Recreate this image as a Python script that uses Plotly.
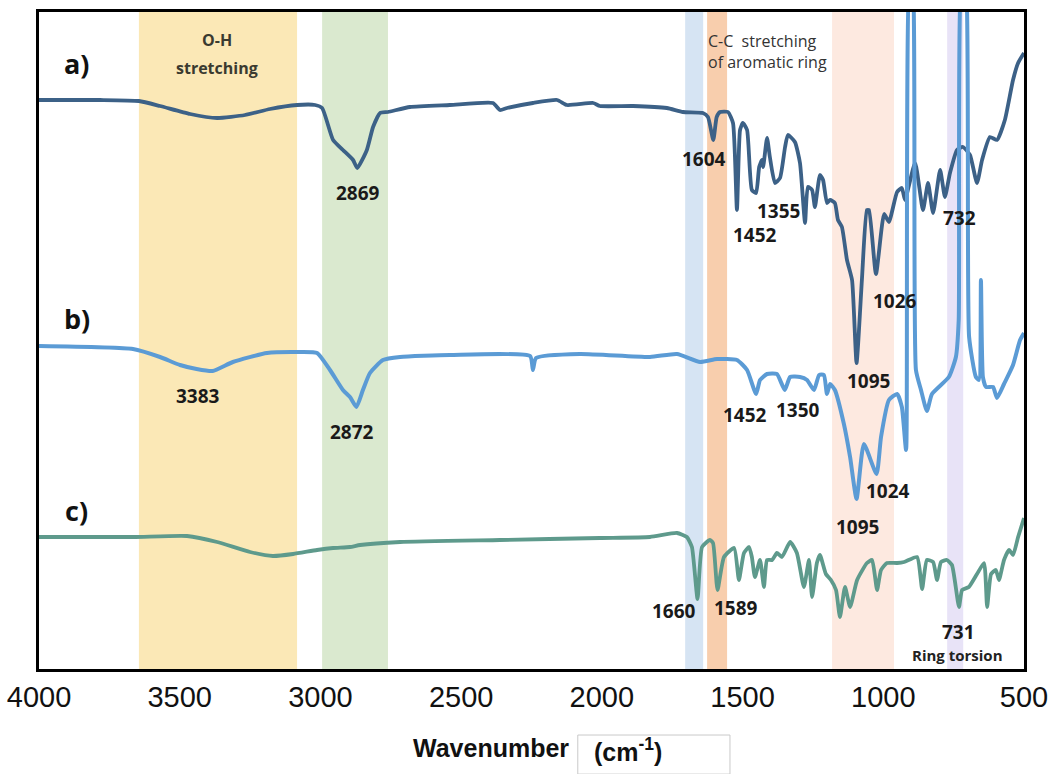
import plotly.graph_objects as go

# FTIR spectra (wavenumber in cm-1, transmittance in arbitrary offset units)
wn_a = [4000, 3783, 3645, 3570, 3463, 3367, 3268, 3179, 3083, 3019, 2994, 2955, 2920, 2884, 2869, 2835,
        2813, 2788, 2760, 2682, 2540, 2387, 2362, 2337, 2245, 2159, 2124, 2031, 2007, 1889, 1769, 1712,
        1641, 1623, 1604, 1592, 1580, 1552, 1534, 1520, 1509, 1499, 1484, 1467, 1452, 1441, 1431, 1427,
        1413, 1403, 1385, 1367, 1349, 1339, 1314, 1296, 1278, 1268, 1253, 1243, 1225, 1214, 1200, 1189,
        1172, 1161, 1147, 1129, 1111, 1095, 1076, 1058, 1051, 1026, 997, 980, 951, 934, 923, 887, 859,
        841, 823, 798, 781, 763, 738, 717, 692, 667, 649, 621, 596, 568, 539, 521, 500]
t_a = [569, 569, 568, 563, 555, 551, 554, 560, 564, 564, 561, 529, 519, 509, 501, 519,
       542, 556, 557, 562, 564, 566, 559, 561, 566, 569, 564, 566, 563, 563, 561, 557,
       556, 552, 529, 552, 557, 557, 546, 459, 539, 546, 539, 479, 476, 502, 509, 502,
       531, 512, 486, 491, 522, 534, 527, 506, 446, 482, 479, 462, 494, 489, 466, 469,
       466, 449, 442, 409, 389, 306, 389, 459, 459, 395, 455, 447, 477, 481, 469, 506, 459,
       486, 456, 499, 472, 496, 519, 522, 514, 486, 509, 532, 529, 549, 589, 606, 616]

wn_b = [4000, 3666, 3570, 3499, 3440, 3383, 3311, 3190, 3073, 3012, 2966, 2920, 2895, 2872, 2849, 2824,
        2778, 2717, 2540, 2255, 2245, 2234, 2078, 1829, 1733, 1651, 1591, 1520, 1484, 1452, 1438, 1413,
        1378, 1350, 1331, 1296, 1271, 1246, 1228, 1211, 1200, 1189, 1172, 1140, 1118, 1095, 1069, 1024,
        1008, 980, 951, 934, 919, 905, 898, 884, 866, 845, 827, 767, 742, 732, 720, 710, 695, 671, 660,
        653, 646, 635, 610, 596, 571, 539, 514, 500]
t_b = [323, 320, 312, 304, 300, 298, 307, 316, 317, 316, 299, 279, 272, 262, 279, 296,
       309, 312, 314, 313, 299, 311, 315, 312, 315, 307, 310, 309, 299, 275, 289, 295,
       295, 279, 292, 292, 289, 279, 294, 294, 275, 285, 279, 245, 212, 170, 225, 195,
       232, 269, 275, 262, 219, 700, 700, 299, 279, 258, 275, 292, 312, 349, 700, 700, 332, 292, 289,
       389, 292, 282, 282, 271, 285, 304, 329, 336]

wn_c = [4000, 3666, 3474, 3367, 3250, 3169, 3097, 3012, 2955, 2895, 2859, 2717, 2362, 2007, 1829, 1733,
        1698, 1680, 1660, 1644, 1616, 1605, 1589, 1566, 1530, 1513, 1495, 1477, 1467, 1456, 1438, 1424,
        1413, 1395, 1378, 1360, 1331, 1307, 1282, 1264, 1253, 1236, 1225, 1204, 1186, 1168, 1154, 1136,
        1118, 1093, 1058, 1040, 1022, 1008, 987, 951, 926, 880, 862, 845, 823, 809, 795, 774, 756, 731,
        720, 696, 667, 642, 631, 617, 600, 589, 571, 553, 539, 521, 500]
t_c = [132, 132, 133, 127, 117, 113, 115, 119, 121, 122, 124, 127, 129, 131, 132, 136,
       132, 122, 70, 122, 129, 126, 79, 112, 121, 89, 116, 122, 112, 92, 109, 82,
       109, 109, 116, 112, 127, 116, 82, 109, 72, 106, 114, 95, 89, 79, 52, 82,
       62, 89, 106, 109, 79, 99, 106, 106, 107, 112, 80, 109, 107, 89, 107, 109, 104, 62,
       79, 82, 95, 106, 62, 95, 99, 89, 109, 119, 114, 132, 151]

# Highlighted absorption regions: (high wn, low wn) and fill colours
band_lo_hi = [(3645, 3083), (2994, 2760), (1704, 1640), (1626, 1555), (1182, 962), (773, 716)]
band_colors = ["#FBE8B6", "#DAE9CF", "#D6E4F3", "#F8CEAD", "#FDE9E0", "#E8E3F7"]

tick_vals = [4000, 3500, 3000, 2500, 2000, 1500, 1000, 500]

# Peak labels: (text, wavenumber position, height position)
peak_labels = [
    ("2869", 2867, 476), ("1604", 1637, 510), ("1355", 1374, 458), ("1452", 1456, 434),
    ("732", 728, 451), ("1026", 959, 368), ("1095", 1051, 288),
    ("3383", 3435, 273), ("2872", 2888, 237), ("1452", 1492, 254), ("1350", 1303, 259),
    ("1024", 983, 178), ("1095", 1090, 142),
    ("1660", 1744, 58), ("1589", 1523, 61), ("731", 731, 37),
]

fig = go.Figure()

for (x0, x1), col in zip(band_lo_hi, band_colors):
    fig.add_shape(type="rect", xref="x", yref="y domain", x0=x0, x1=x1, y0=0, y1=1,
                  fillcolor=col, line=dict(width=0), layer="below")

line_shape = dict(shape="spline", smoothing=0.5)
fig.add_trace(go.Scatter(x=wn_c, y=t_c, mode="lines",
                         line=dict(color="#5E9A8C", width=3.8, **line_shape),
                         hoverinfo="skip", showlegend=False))
fig.add_trace(go.Scatter(x=wn_a, y=t_a, mode="lines",
                         line=dict(color="#3C6187", width=3.8, **line_shape),
                         hoverinfo="skip", showlegend=False))
fig.add_trace(go.Scatter(x=wn_b, y=t_b, mode="lines",
                         line=dict(color="#5B9BD5", width=4.0, **line_shape),
                         hoverinfo="skip", showlegend=False))

num_font = dict(family="Open Sans, Liberation Sans, Arial", size=19, color="#1a1a1a", weight="bold")
ann = []
for txt, x, y in peak_labels:
    ann.append(dict(x=x, y=y, text=txt, showarrow=False, font=num_font, xanchor="center", yanchor="middle"))

lbl_font = dict(family="Open Sans, Liberation Sans, Arial", size=27, color="#111", weight="bold")
for txt, y in [("a)", 606), ("b)", 351), ("c)", 159)]:
    ann.append(dict(x=3865, y=y, text=txt, showarrow=False, font=lbl_font))

grp_font = dict(family="Open Sans, Liberation Sans, Arial", size=16, color="#3a3a30", weight="bold")
ann.append(dict(x=3368, y=629, text="O-H", showarrow=False, font=grp_font))
ann.append(dict(x=3368, y=601, text="stretching", showarrow=False, font=grp_font))

cc_font = dict(family="Open Sans, Liberation Sans, Arial", size=16, color="#333333")
ann.append(dict(x=1428, y=628, text="C-C  stretching", showarrow=False, font=cc_font))
ann.append(dict(x=1410, y=607, text="of aromatic ring", showarrow=False, font=cc_font))
ann.append(dict(x=738, y=14, text="Ring torsion", showarrow=False,
                font=dict(family="Open Sans, Liberation Sans, Arial", size=15, color="#222", weight="bold")))

# Axis title with boxed unit
title_font = dict(family="Liberation Sans, Arial", size=25, color="#111", weight="bold")
ann.append(dict(xref="paper", yref="paper", x=0.459, y=-0.12, text="Wavenumber", showarrow=False,
                font=title_font, xanchor="center", yanchor="middle"))
ann.append(dict(xref="paper", yref="paper", x=0.598, y=-0.123, text="(cm<sup>-1</sup>)", showarrow=False,
                font=title_font, xanchor="center", yanchor="middle"))
fig.add_shape(type="rect", xref="paper", yref="paper", x0=0.547, x1=0.7015, y0=-0.16, y1=-0.1005,
              line=dict(color="#c9c9c9", width=1), fillcolor="rgba(0,0,0,0)")

fig.update_layout(
    width=1051, height=774,
    margin=dict(l=39, r=27, t=12, b=105, autoexpand=False),
    paper_bgcolor="white", plot_bgcolor="white",
    annotations=ann,
    xaxis=dict(range=[4000, 500], tickvals=tick_vals, ticktext=[str(v) for v in tick_vals],
               showgrid=False, zeroline=False, showline=True, mirror=True, linecolor="black",
               linewidth=2.5, ticks="", ticklabelstandoff=0, automargin=False,
               tickfont=dict(family="Liberation Sans, Arial", size=29, color="#111")),
    yaxis=dict(range=[0, 657], showgrid=False, zeroline=False, showticklabels=False, automargin=False,
               showline=True, mirror=True, linecolor="black", linewidth=2.5, ticks=""),
)

fig.write_html("out.html")
